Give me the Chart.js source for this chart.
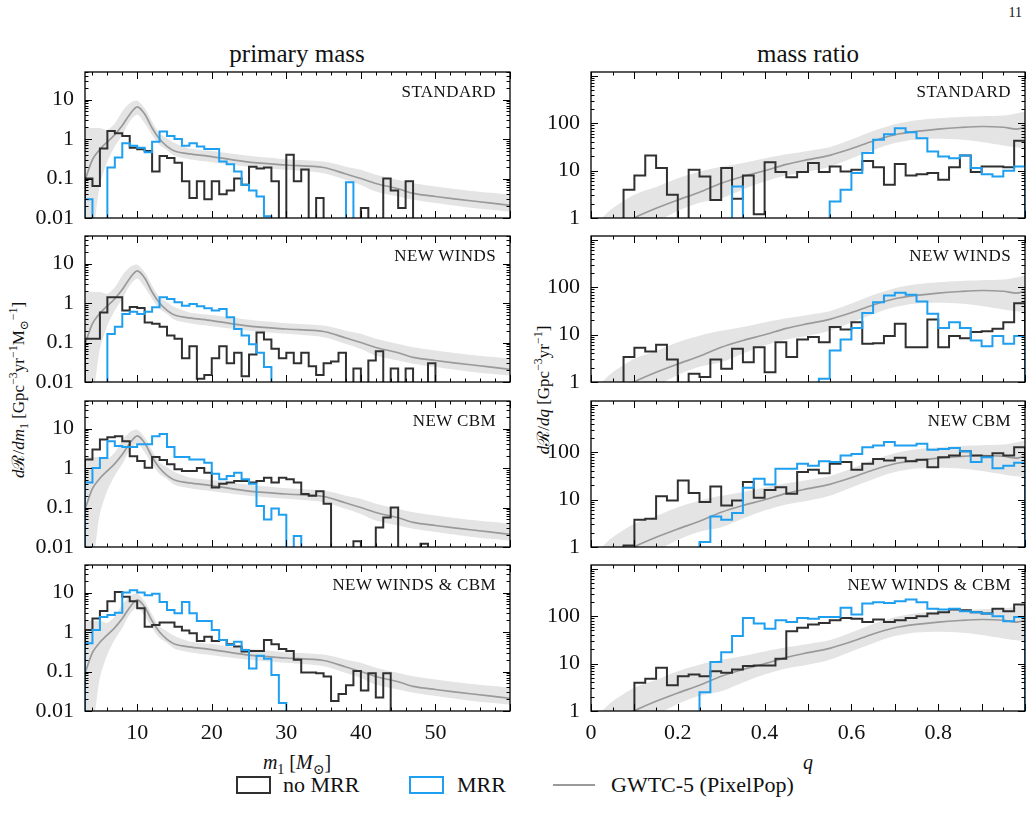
<!DOCTYPE html>
<html>
<head>
<meta charset="utf-8">
<script src="https://cdn.jsdelivr.net/npm/chart.js@4.4.1/dist/chart.umd.min.js"></script>
<style>
  body { margin: 0; width: 1032px; height: 830px; background: #fff; position: relative; overflow: hidden;
         font-family: "Liberation Serif", "DejaVu Serif", serif; color: #111; }
  canvas { position: absolute; }
  .t { position: absolute; white-space: nowrap; line-height: 1; }
  .c { transform: translate(-50%, -50%); }
  .r { transform: translate(-100%, -50%); }
  .tag { font-size: 17px; letter-spacing: 0.4px; }
  sub, sup { font-size: 70%; line-height: 0; }
</style>
</head>
<body>

<div class="t" style="right:10px;top:6px;font-size:14px">11</div>
<div class="t c" style="left:297px;top:53px;font-size:25px">primary mass</div>
<div class="t c" style="left:808px;top:53px;font-size:25px">mass ratio</div>

<div class="t c" style="left:18px;top:390px;font-size:17px;transform:translate(-50%,-50%) rotate(-90deg)"><i>d</i>ℛ/<i>dm</i><sub>1</sub> [Gpc<sup>−3</sup>yr<sup>−1</sup>M<sub>⊙</sub><sup>−1</sup>]</div>
<div class="t c" style="left:543px;top:390px;font-size:17px;transform:translate(-50%,-50%) rotate(-90deg)"><i>d</i>ℛ/<i>dq</i> [Gpc<sup>−3</sup>yr<sup>−1</sup>]</div>

<div class="t c" style="left:297px;top:762px;font-size:20px"><i>m</i><sub>1</sub> [<i>M</i><sub>⊙</sub>]</div>
<div class="t c" style="left:808px;top:762px;font-size:20px"><i>q</i></div>

<div style="position:absolute;left:236px;top:776px;width:31px;height:14px;border:2px solid #303030"></div>
<div class="t" style="left:283px;top:785px;font-size:22px;transform:translateY(-50%)">no MRR</div>
<div style="position:absolute;left:409px;top:776px;width:31px;height:14px;border:2px solid #1f9fef"></div>
<div class="t" style="left:457px;top:785px;font-size:22px;transform:translateY(-50%)">MRR</div>
<div style="position:absolute;left:553px;top:784px;width:42px;height:2px;background:#9a9a9a"></div>
<div class="t" style="left:611px;top:785px;font-size:22px;transform:translateY(-50%)">GWTC-5 (PixelPop)</div>

<script>
// ---- data ----
const scenarios = ['STANDARD', 'NEW WINDS', 'NEW CBM', 'NEW WINDS & CBM'];

// primary mass histograms: 57 bins of 1 Msun from 3 to 60
const m1BinLo = 3, m1BinW = 1;
const m1NoMrrStandard = [0.1,0.065,0.58,1.6,1.4,1.2,0.6,0.55,0.5,0.15,0.37,0.33,0.25,0.085,0.032,0.085,0.03,0.085,0.04,0.05,0.1,0.07,0.2,0.18,0.19,0.085,0,0.4,0.085,0.17,0,0.032,0,0,0,0,0,0.018,0,0,0.1,0.05,0.018,0.085,0,0,0,0,0,0,0,0,0,0,0,0,0];
const m1MrrStandard = [0.03,0,0,0.19,0.34,0.78,0.68,0.6,0.46,0.85,1.55,1.2,1.0,0.68,0.78,0.65,0.56,0.56,0.27,0.23,0.15,0.07,0.05,0.035,0.011,0,0,0,0,0,0,0,0,0,0,0.08,0,0,0,0,0,0,0,0,0,0,0,0,0,0,0,0,0,0,0,0,0];
const m1NoMrrWinds = [0.124,0.124,0.58,1.4,1.4,0.65,0.8,0.75,0.32,0.3,0.25,0.15,0.124,0.04,0.08,0.012,0.015,0.04,0.08,0.03,0.055,0.014,0.05,0.18,0.12,0.07,0.04,0.055,0.03,0.055,0.025,0.015,0.03,0.033,0.055,0,0.022,0,0.035,0.06,0,0.022,0,0.022,0,0,0.03,0,0,0,0,0,0,0,0,0,0];
const m1MrrWinds = [0,0,0,0.165,0.25,0.53,0.6,0.53,0.6,0.78,1.4,1.27,1.05,0.86,0.95,0.83,0.74,0.65,0.71,0.44,0.22,0.15,0.09,0.055,0.024,0,0,0,0,0,0,0,0,0,0,0,0,0,0,0,0,0,0,0,0,0,0,0,0,0,0,0,0,0,0,0,0];
const m1NoMrrCbm = [1.65,2.95,5.3,6.0,6.4,4.8,2.0,1.5,1.02,1.9,1.6,1.24,0.93,0.84,0.84,1.0,0.76,0.32,0.4,0.43,0.47,0.47,0.43,0.47,0.57,0.43,0.57,0.52,0.43,0.22,0.2,0.26,0.125,0,0,0,0.014,0,0,0.031,0.056,0.1,0,0,0,0.012,0,0,0,0,0,0,0,0,0,0,0];
const m1MrrCbm = [0.43,1.0,1.8,4.8,3.6,3.4,3.4,4.0,4.0,6.4,7.3,3.4,1.9,1.9,1.65,1.65,1.37,0.72,0.52,0.63,0.76,0.52,0.4,0.11,0.05,0.094,0.066,0,0.019,0,0,0,0,0,0,0,0,0,0,0,0,0,0,0,0,0,0,0,0,0,0,0,0,0,0,0,0];
const m1NoMrrBoth = [1.12,2.2,3.4,6.0,10.4,7.8,6.0,4.0,1.36,1.5,1.75,1.75,1.36,1.1,0.93,0.59,0.76,0.59,0.63,0.49,0.43,0.32,0.33,0.33,0.63,0.49,0.37,0.33,0.2,0.095,0.095,0.09,0.075,0.018,0.027,0.045,0.103,0.033,0.09,0.022,0.09,0,0,0,0,0,0,0,0,0,0,0,0,0,0,0,0];
const m1MrrBoth = [0.52,1.12,2.4,2.7,3.1,10,11.4,10,8.6,9.4,5.8,3.6,3.0,5.8,3.0,1.9,1.9,1.12,0.63,0.47,0.57,0.35,0.12,0.25,0.21,0.082,0.016,0,0,0,0,0,0,0,0,0,0,0,0,0,0,0,0,0,0,0,0,0,0,0,0,0,0,0,0,0,0];

// GWTC-5 PixelPop, primary mass: median and band
const m1PopGrid  = [3,4,5,6,7,8,9,10,11,12,13,14,15,17,20,25,30,35,38,40,42,45,47,50,55,60];
const m1PopMed   = [0.09,0.3,0.55,0.85,1.3,2.2,4.2,6.5,4.3,1.9,1.0,0.65,0.5,0.42,0.36,0.26,0.22,0.19,0.13,0.1,0.075,0.055,0.042,0.035,0.027,0.021];
const m1PopHigh  = [1.9,1.9,1.9,1.7,2.5,5.0,8.1,9.4,6.0,2.8,1.4,1.05,0.79,0.58,0.5,0.38,0.31,0.27,0.2,0.166,0.124,0.092,0.076,0.063,0.048,0.039];
const m1PopLow   = [0.005,0.005,0.07,0.27,0.65,1.27,2.77,4.1,2.5,1.27,0.71,0.53,0.38,0.31,0.26,0.2,0.166,0.136,0.092,0.069,0.047,0.035,0.029,0.024,0.018,0.0146];

// mass ratio histograms: 40 bins of 0.025 from 0 to 1
const qBinLo = 0, qBinW = 0.025;
const qNoMrrStandard = [0,0,0,3.95,7.9,20.9,11.3,3.1,0,10.4,7.5,2.4,11.3,2.55,7.9,1.2,15,9.3,7.2,9.3,14.4,9.3,12.2,9.6,10.4,16,11.7,5,13.7,7.9,8.4,8.9,6.4,11.7,20.9,9.3,12.2,12.2,11.7,42.5];
const qMrrStandard = [0,0,0,0,0,0,0,0,0,0,0,0,0,4.6,0,0,0,0,0,0,0,0,2.24,3.95,8.9,23.4,44.6,58.5,78,64,48,25.3,19.8,18.3,20.9,11.3,8.4,7.5,9.9,12.2];
const qNoMrrWinds = [0,0,0,3.35,5.3,4.4,6.1,3.0,0,1.5,1.27,3.0,1.9,5.0,2.6,5.4,1.6,6.9,3.35,7.9,8.9,6.9,14.4,12.8,18.3,6.4,6.6,9.3,16.9,5.4,5.4,20.9,5.4,9.3,8.4,11.3,11.7,13.2,18.3,46];
const qMrrWinds = [0,0,0,0,0,0,0,0,0,0,0,0,0,0,0,0,0,0,0,0,0,1.17,4.6,7.9,13.7,28.4,48,67,76,69,50,27.4,13.7,18.3,13.7,7.5,5.7,9.3,6.4,9.3];
const qNoMrrCbm = [0,0,0,1.08,3.76,3.95,11.7,9.6,25.3,13.7,8.9,18.9,7.5,9.6,23.4,10.9,16,18.3,13.2,38,42.5,36,57,62,42.5,57,72,67,76,64,69,48,78,85,105,85,81,95,85,127];
const qMrrCbm = [0,0,0,0,0,0,0,0,0,0,1.27,4.4,3.76,5.2,17.8,27.4,20.9,44.6,44.6,57,52,64,62,85,92,127,138,163,138,138,150,112,117,123,105,62,78,46,52,60];
const qNoMrrBoth = [0,0,0,0,3.95,4.8,8.2,3.5,5.4,5.9,5.4,6.9,6.4,7.5,8.9,9.1,9.1,12.6,48,57,67,72,82,92,88,75,85,75,82,92,100,114,121,138,134,121,114,143,127,176];
const qMrrBoth = [0,0,0,0,0,0,0,0,0,0,2.5,10.8,17.4,38,92,70,54,82,75,92,88,96,96,150,108,185,197,190,207,224,197,143,138,143,127,121,114,100,78,96];

// GWTC-5 PixelPop, mass ratio: median and band
const qPopGrid = [0.02,0.05,0.1,0.15,0.2,0.25,0.3,0.35,0.4,0.45,0.5,0.55,0.6,0.65,0.7,0.75,0.8,0.85,0.9,0.95,0.98,1.0];
const qPopMed  = [0.3,0.5,1.0,1.6,2.4,3.5,5.4,7.5,9.9,13.5,17,21,29,42,57,67,75,81,85,82,75,82];
const qPopHigh = [0.9,1.6,3.1,4.5,6.9,9.5,12,14.5,18,22,26,31,45,68,95,115,127,135,140,145,160,176];
const qPopLow  = [0.2,0.3,0.4,0.8,1.4,2.1,2.6,4.0,5.9,7.9,9.5,12,18,27,38,45,47,45,40,34,31,30];

// axis ticks
const m1TickLabels = [10, 20, 30, 40, 50];
const qTickLabels = [0, 0.2, 0.4, 0.6, 0.8];
const m1YTickLabels = [0.01, 0.1, 1, 10];
const qYTickLabels = [1, 10, 100];

// ---- layout ----
const FLOOR = 1e-5;
const BLACK = '#303030', BLUE = '#1f9fef', GREY = '#9a9a9a', BAND = '#e4e4e4';
const rowTop = [72, 236, 401, 565], panelH = 146;
const col = [
  { canvasLeft: 0,   canvasW: 520, left: 85,  right: 510 },
  { canvasLeft: 530, canvasW: 500, left: 591, right: 1025 }
];

// outline of a histogram: up from the floor at the first edge, flat over each bin, down at the last edge
function stepData(lo, w, vals) {
  const pts = [{ x: lo, y: FLOOR }];
  vals.forEach((v, k) => pts.push({ x: lo + k * w, y: v > 0 ? v : FLOOR }));
  const end = lo + vals.length * w, last = vals[vals.length - 1];
  pts.push({ x: end, y: last > 0 ? last : FLOOR });
  pts.push({ x: end, y: FLOOR });
  return pts;
}
const zip = (xs, ys) => xs.map((x, i) => ({ x: x, y: ys[i] }));

// inward ticks on all four sides plus the frame
const frameTicks = {
  id: 'frameTicks',
  afterDatasetsDraw(chart, args, o) {
    const { ctx, chartArea: a, scales: { x, y } } = chart;
    ctx.save();
    ctx.strokeStyle = '#000';
    ctx.lineWidth = 1;
    ctx.beginPath();
    const xt = (v, len) => {
      const p = Math.round(x.getPixelForValue(v)) + 0.5;
      ctx.moveTo(p, a.bottom); ctx.lineTo(p, a.bottom - len);
      ctx.moveTo(p, a.top); ctx.lineTo(p, a.top + len);
    };
    const yt = (v, len) => {
      const p = Math.round(y.getPixelForValue(v)) + 0.5;
      ctx.moveTo(a.left, p); ctx.lineTo(a.left + len, p);
      ctx.moveTo(a.right, p); ctx.lineTo(a.right - len, p);
    };
    for (let v = o.xMin; v <= o.xMax + 1e-9; v += o.xMinor) {
      const isMajor = Math.abs(v / o.xMajor - Math.round(v / o.xMajor)) < 1e-6;
      xt(v, isMajor ? 7 : 3.5);
    }
    const d0 = Math.floor(Math.log10(y.min)), d1 = Math.ceil(Math.log10(y.max));
    for (let d = d0; d <= d1; d++) {
      for (let m = 1; m <= 9; m++) {
        const v = m * Math.pow(10, d);
        if (v >= y.min * 0.999 && v <= y.max) yt(v, m === 1 ? 7 : 3.5);
      }
    }
    ctx.stroke();
    ctx.lineWidth = 1.3;
    ctx.strokeRect(a.left, a.top, a.right - a.left, a.bottom - a.top);
    ctx.restore();
  }
};

const panels = [
  { c: 0, r: 0, noMrr: m1NoMrrStandard, mrr: m1MrrStandard },
  { c: 0, r: 1, noMrr: m1NoMrrWinds, mrr: m1MrrWinds },
  { c: 0, r: 2, noMrr: m1NoMrrCbm, mrr: m1MrrCbm },
  { c: 0, r: 3, noMrr: m1NoMrrBoth, mrr: m1MrrBoth },
  { c: 1, r: 0, noMrr: qNoMrrStandard, mrr: qMrrStandard },
  { c: 1, r: 1, noMrr: qNoMrrWinds, mrr: qMrrWinds },
  { c: 1, r: 2, noMrr: qNoMrrCbm, mrr: qMrrCbm },
  { c: 1, r: 3, noMrr: qNoMrrBoth, mrr: qMrrBoth }
];

const tickFont = { family: '"Liberation Serif", serif', size: 22 };

panels.forEach(p => {
  const g = col[p.c];
  const isMass = p.c === 0;
  const bottomRow = p.r === 3;
  const padTop = 16, axisH = bottomRow ? 40 : 18;
  const cv = document.createElement('canvas');
  cv.width = g.canvasW;
  cv.height = padTop + panelH + axisH;
  cv.style.left = g.canvasLeft + 'px';
  cv.style.top = (rowTop[p.r] - padTop) + 'px';
  document.body.appendChild(cv);

  const tag = document.createElement('div');
  tag.className = 't r tag';
  tag.textContent = scenarios[p.r];
  tag.style.left = (g.right - 14) + 'px';
  tag.style.top = (rowTop[p.r] + 19) + 'px';
  document.body.appendChild(tag);

  const lo = isMass ? m1BinLo : qBinLo, w = isMass ? m1BinW : qBinW;
  const grid = isMass ? m1PopGrid : qPopGrid;
  const xTicks = isMass ? m1TickLabels : qTickLabels;
  const yTicks = isMass ? m1YTickLabels : qYTickLabels;

  new Chart(cv, {
    type: 'line',
    data: {
      datasets: [
        { data: stepData(lo, w, p.mrr), borderColor: BLUE, borderWidth: 2, stepped: 'before', pointRadius: 0, order: 0 },
        { data: stepData(lo, w, p.noMrr), borderColor: BLACK, borderWidth: 2, stepped: 'before', pointRadius: 0, order: 1 },
        { data: zip(grid, isMass ? m1PopMed : qPopMed), borderColor: GREY, borderWidth: 1.7, pointRadius: 0, tension: 0.3, order: 2 },
        { data: zip(grid, isMass ? m1PopHigh : qPopHigh), borderWidth: 0, pointRadius: 0, tension: 0.3, fill: '+1', backgroundColor: BAND, order: 3 },
        { data: zip(grid, isMass ? m1PopLow : qPopLow), borderWidth: 0, pointRadius: 0, tension: 0.3, order: 4 }
      ]
    },
    options: {
      responsive: false,
      animation: false,
      devicePixelRatio: 1,
      events: [],
      layout: { padding: { top: padTop, left: 0, bottom: 0, right: g.canvasLeft + g.canvasW - g.right } },
      plugins: {
        legend: { display: false },
        tooltip: { enabled: false },
        frameTicks: isMass
          ? { xMin: 4, xMax: 60, xMinor: 2, xMajor: 10 }
          : { xMin: 0, xMax: 1, xMinor: 0.05, xMajor: 0.1 }
      },
      scales: {
        x: {
          type: 'linear',
          min: isMass ? 3 : 0,
          max: isMass ? 60 : 1,
          grid: { display: false, drawTicks: false },
          border: { display: false },
          ticks: { display: bottomRow, font: tickFont, color: '#111', padding: 9, maxRotation: 0, autoSkip: false,
                   callback: v => String(v) },
          afterBuildTicks: s => { s.ticks = xTicks.map(v => ({ value: v })); },
          afterFit: s => { s.height = axisH; s.paddingLeft = 0; s.paddingRight = 0; s.paddingTop = 0; s.paddingBottom = 0; }
        },
        y: {
          type: 'logarithmic',
          min: isMass ? 0.01 : 1,
          max: isMass ? 50 : 1200,
          grid: { display: false, drawTicks: false },
          border: { display: false },
          ticks: { font: tickFont, color: '#111', padding: 11, autoSkip: false, callback: v => String(v) },
          afterBuildTicks: s => { s.ticks = yTicks.map(v => ({ value: v })); },
          afterFit: s => { s.width = g.left - g.canvasLeft; s.paddingLeft = 0; s.paddingRight = 0; s.paddingTop = 0; s.paddingBottom = 0; }
        }
      }
    },
    plugins: [frameTicks]
  });
});
</script>
</body>
</html>
